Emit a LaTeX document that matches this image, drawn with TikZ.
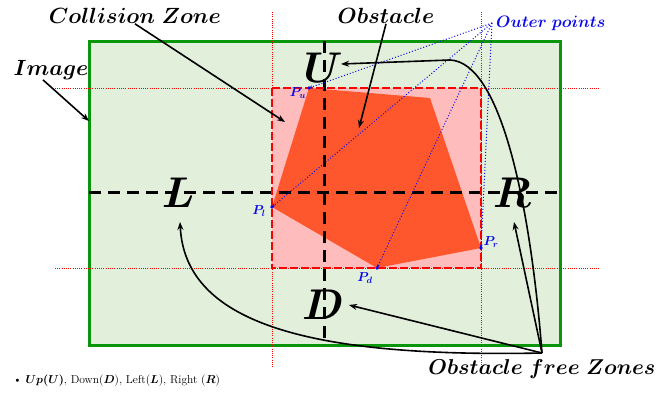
\RequirePackage{fix-cm}
\documentclass[tikz,border=0pt]{standalone}
\usepackage{amsmath}
\usepackage{xcolor}
\usepackage{tikz}
\usetikzlibrary{arrows.meta, positioning, calc}

\definecolor{imgfill}{RGB}{226,239,218}
\definecolor{imgedge}{RGB}{10,150,10}
\definecolor{zonefill}{RGB}{255,188,188}
\definecolor{obsfill}{RGB}{255,87,45}
\definecolor{ptblue}{RGB}{10,10,235}

\begin{document}
\begin{tikzpicture}[
        x=1pt, y=-1pt,
        title/.style={font=\fontsize{22}{24}\selectfont\boldmath, inner sep=0pt},
        zone/.style={font=\fontsize{43}{43}\selectfont\boldmath, inner sep=0pt},
        ptlabel/.style={font=\fontsize{13}{15}\selectfont\boldmath, text=ptblue, inner sep=0pt},
        axis/.style={line width=3pt, dash pattern=on 12pt off 7pt},
        guide/.style={red, line width=0.8pt, dash pattern=on 1pt off 1.2pt},
        arrow/.style={line width=1.6pt, -{Stealth[length=8pt, width=6pt]}},
        pointer/.style={ptblue, line width=1pt, dotted, -{Stealth[length=3.5pt, width=3pt]}}
    ]
        \useasboundingbox (0,0) rectangle (660,394);

        % image area and guides
        \draw[imgedge, fill=imgfill, line width=3pt] (89,41) rectangle (560,345);
        \draw[guide] (55,88) -- (600,88);
        \draw[guide] (55,268) -- (600,268);
        \draw[guide] (272,12) -- (272,367);
        \draw[guide] (481,12) -- (481,367);

        % collision zone and obstacle
        \fill[zonefill] (272,88) rectangle (481,268);
        \coordinate (pu) at (309,88);
        \coordinate (pr) at (481,248);
        \coordinate (pd) at (377,268);
        \coordinate (pl) at (272,207);
        \fill[obsfill] (pu) -- (430,98) -- (pr) -- (pd) -- (pl) -- cycle;
        \draw[axis] (89,192) -- (560,192);
        \draw[axis] (324,41) -- (324,345);
        \draw[red, line width=2pt, dash pattern=on 8pt off 3pt] (272,88) rectangle (481,268);

        % zone letters
        \node[zone] (U) at (323,68) {$U$};
        \node[zone] (L) at (178,193) {$L$};
        \node[zone] (R) at (512,193) {$R$};
        \node[zone] (D) at (323,305) {$D$};

        % outer points
        \node[title, font=\fontsize{16.5}{18}\selectfont\boldmath, text=ptblue, anchor=west] (outer) at (496,23) {$Outer\ points$};
        \coordinate (op) at (492,23);
        \foreach \p in {pu, pl, pd, pr}
            \draw[pointer] (op) -- (\p);
        \foreach \p in {pu, pl, pd, pr}
            \fill[ptblue] (\p) circle (1.8);
        \node[ptlabel] (pulbl) at (298,93) {$P_u$};
        \node[ptlabel] (pllbl) at (259,211) {$P_l$};
        \node[ptlabel] (prlbl) at (491,242) {$P_r$};
        \node[ptlabel] (pdlbl) at (365,278) {$P_d$};

        % titles
        \node[title] (cz) at (135,16) {$Collision\ Zone$};
        \node[title] (obs) at (386,16) {$Obstacle$};
        \node[title] (img) at (51,70) {$Image$};
        \node[title, font=\fontsize{21.5}{24}\selectfont\boldmath] (ofz) at (542,369) {$Obstacle\ free\ Zones$};
        \node[anchor=west, font=\fontsize{11.5}{13}\selectfont, inner sep=0pt] (legend) at (13,381)
            {\textbullet\ {\boldmath$Up(U)$}, Down({\boldmath$D$}), Left({\boldmath$L$}), Right ({\boldmath$R$})};

        % arrows
        \coordinate (imgtip) at (89,121);
        \coordinate (cztip) at (285,122);
        \coordinate (obstip) at (359,128);
        \coordinate (hub) at (542,353);
        \coordinate (utip) at (341,64);
        \coordinate (ltip) at (180,222);
        \coordinate (rtip) at (514,222);
        \coordinate (dtip) at (349,305);
        \draw[arrow] ([xshift=-8pt]img.south) -- (imgtip);
        \draw[arrow] (cz.south) -- (cztip);
        \draw[arrow] (obs.south) -- (obstip);
        \draw[arrow] (hub) -- (dtip);
        \draw[arrow] (hub) -- (rtip);
        \draw[arrow] (hub) .. controls (530,200) and (500,62) .. (450,60) -- (utip);
        \draw[arrow] (hub) .. controls (300,358) and (185,320) .. (ltip);
    \end{tikzpicture}
\end{document}
